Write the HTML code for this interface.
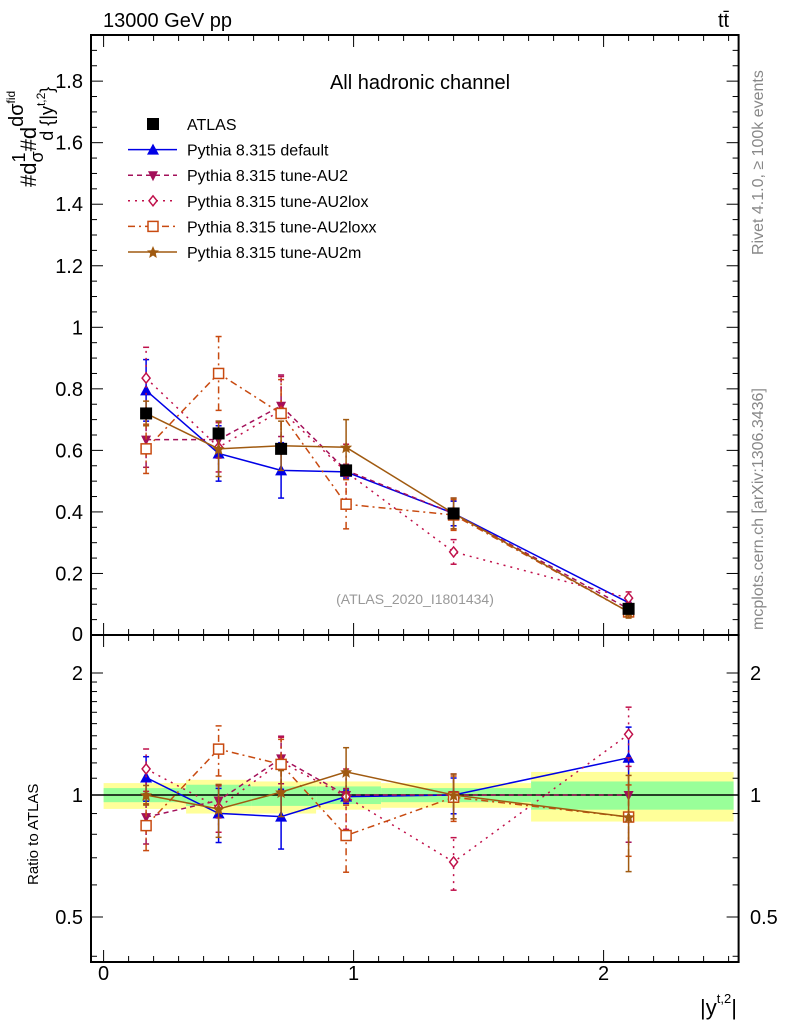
<!DOCTYPE html>
<html><head><meta charset="utf-8"><style>
html,body{margin:0;padding:0;background:#fff;}
svg text{font-family:"Liberation Sans",sans-serif;}
</style></head><body>
<svg id="c" width="786" height="1024" xmlns="http://www.w3.org/2000/svg"></svg>
<script>
const xs=[0.17,0.46,0.71,0.97,1.4,2.1];
const atlas=[0.72,0.655,0.605,0.535,0.395,0.085];
const atlasErr=[0.02,0.02,0.02,0.015,0.015,0.005];
const def=[0.795,0.59,0.535,0.53,0.395,0.105];
const defErr=[0.1,0.09,0.09,0.02,0.04,0.02];
const au2=[0.635,0.635,0.745,0.535,0.395,0.085];
const au2Err=[0.09,0.06,0.1,0.02,0.05,0.02];
const lox=[0.835,0.61,0.73,0.53,0.27,0.12];
const loxErr=[0.1,0.08,0.11,0.09,0.04,0.02];
const loxx=[0.605,0.85,0.72,0.425,0.39,0.075];
const loxxErr=[0.08,0.12,0.11,0.08,0.05,0.015];
const au2m=[0.72,0.605,0.615,0.61,0.395,0.075];
const au2mErr=[0.04,0.09,0.08,0.09,0.05,0.02];
const bandEdges=[0,0.33,0.59,0.85,1.11,1.71,2.52];
const yellowHi=[1.07,1.09,1.08,1.08,1.07,1.14];
const yellowLo=[0.924,0.90,0.90,0.92,0.93,0.86];
const greenHi=[1.04,1.06,1.05,1.05,1.04,1.08];
const greenLo=[0.96,0.94,0.94,0.95,0.96,0.92];
const yMainTicks=[0.2,0.4,0.6,0.8,1,1.2,1.4,1.6,1.8];
const yMainLabels=["0.2","0.4","0.6","0.8","1","1.2","1.4","1.6","1.8"];
const rTicks=[0.5,1,2];
const rLabels=["0.5","1","2"];
const xTicks=[0,1,2];
const xLabels=["0","1","2"];

const L=91,R=738.6,T=35,MB=635,RB=962;
const X=v=>103.6+250*v;
const Y=v=>635-307.7*v;
const RY=v=>795-122*Math.log2(v);
const svg=document.getElementById('c');
const NS='http://www.w3.org/2000/svg';
function el(tag,attrs,parent){const e=document.createElementNS(NS,tag);for(const k in attrs)e.setAttribute(k,attrs[k]);(parent||svg).appendChild(e);return e;}
function txt(s,x,y,attrs){const e=el('text',Object.assign({x:x,y:y},attrs||{}));e.textContent=s;return e;}

for(let i=0;i<yellowHi.length;i++){
 const r=el('rect',{x:X(bandEdges[i]),y:RY(yellowHi[i]),width:X(bandEdges[i+1])-X(bandEdges[i]),height:RY(yellowLo[i])-RY(yellowHi[i]),fill:'#ffff99'});
 
 
 const g=el('rect',{x:X(bandEdges[i]),y:RY(greenHi[i]),width:X(bandEdges[i+1])-X(bandEdges[i]),height:RY(greenLo[i])-RY(greenHi[i]),fill:'#99ff99'});
 
 
}
el('line',{x1:L,x2:R,y1:RY(1),y2:RY(1),stroke:'#000','stroke-width':1.5});

const f1=el('rect',{x:L,y:T,width:R-L,height:MB-T,fill:'none',stroke:'#000','stroke-width':2});

const f2=el('rect',{x:L,y:MB,width:R-L,height:RB-MB,fill:'none',stroke:'#000','stroke-width':2});


for(let k=0;k<=25;k++){const v=k/10;const px=X(v);const maj=k%10==0;const len=maj?12:6;
 [T,MB].forEach(y0=>el('line',{x1:px,x2:px,y1:y0,y2:y0+len,stroke:'#000','stroke-width':1}));
 [MB,RB].forEach(y0=>el('line',{x1:px,x2:px,y1:y0,y2:y0-len,stroke:'#000','stroke-width':1}));
}
xTicks.forEach((v,i)=>{const t=txt(xLabels[i],X(v),980,{'font-size':20,'text-anchor':'middle'});});
for(let k=1;k<=39;k++){const v=k*0.05;const py=Y(v);if(py<T)break;const maj=k%4==0;const len=maj?12:6;
 el('line',{x1:L,x2:L+len,y1:py,y2:py,stroke:'#000'});el('line',{x1:R,x2:R-len,y1:py,y2:py,stroke:'#000'});}
yMainTicks.forEach((v,i)=>{const t=txt(yMainLabels[i],83,Y(v)+7,{'font-size':20,'text-anchor':'end'});});
txt('0',83,641,{'font-size':20,'text-anchor':'end'});
[0.4,0.5,0.6,0.7,0.8,0.9,1,1.1,1.2,1.3,1.4,1.5,1.6,1.7,1.8,1.9,2].forEach(v=>{const py=RY(v);if(py>RB||py<MB)return;const maj=[0.5,1,2].includes(v);const len=maj?12:6;
 el('line',{x1:L,x2:L+len,y1:py,y2:py,stroke:'#000'});el('line',{x1:R,x2:R-len,y1:py,y2:py,stroke:'#000'});});
rTicks.forEach((v,i)=>{txt(rLabels[i],83,RY(v)+7,{'font-size':20,'text-anchor':'end'});
 txt(rLabels[i],750,RY(v)+7,{'font-size':20});});

const series=[
 {name:'pythia-default',v:def,e:defErr,c:'#0000e6',dash:'',m:'tri'},
 {name:'pythia-au2',v:au2,e:au2Err,c:'#a3105a',dash:'5,4',m:'tridown'},
 {name:'pythia-au2lox',v:lox,e:loxErr,c:'#c0104a',dash:'2,5',m:'diamond'},
 {name:'pythia-au2loxx',v:loxx,e:loxxErr,c:'#c84a10',dash:'7,4,2,4',m:'square'},
 {name:'pythia-au2m',v:au2m,e:au2mErr,c:'#a05a10',dash:'',m:'star'}
];
function marker(m,x,y,c,g){
 if(m=='tri')el('polygon',{points:`${x},${y-6} ${x-6},${y+5} ${x+6},${y+5}`,fill:c},g);
 else if(m=='tridown')el('polygon',{points:`${x},${y+6} ${x-5},${y-4} ${x+5},${y-4}`,fill:c},g);
 else if(m=='diamond')el('polygon',{points:`${x},${y-5} ${x-4},${y} ${x},${y+5} ${x+4},${y}`,fill:'#fff',stroke:c,'stroke-width':1.5},g);
 else if(m=='square')el('rect',{x:x-5,y:y-5,width:10,height:10,fill:'#fff',stroke:c,'stroke-width':1.5},g);
 else if(m=='star')el('polygon',{points:`${x},${y-6} ${x+1.8},${y-1.8} ${x+6},${y-1.5} ${x+2.8},${y+1.5} ${x+3.8},${y+6} ${x},${y+3.5} ${x-3.8},${y+6} ${x-2.8},${y+1.5} ${x-6},${y-1.5} ${x-1.8},${y-1.8}`,fill:c},g);
 else if(m=='sq')el('rect',{x:x-6,y:y-6,width:12,height:12,fill:c},g);
}
function draw(s,fy,vals,errs,g){
 el('polyline',{points:xs.map((x,i)=>X(x)+','+fy(vals[i])).join(' '),fill:'none',stroke:s.c,'stroke-width':1.5,'stroke-dasharray':s.dash},g);
 xs.forEach((x,i)=>{const lo=fy(vals[i]-errs[i]),hi=fy(vals[i]+errs[i]);
  el('line',{x1:X(x),x2:X(x),y1:lo,y2:hi,stroke:s.c,'stroke-width':1.5,'stroke-dasharray':s.dash},g);
  el('line',{x1:X(x)-3,x2:X(x)+3,y1:lo,y2:lo,stroke:s.c,'stroke-width':1.5},g);
  el('line',{x1:X(x)-3,x2:X(x)+3,y1:hi,y2:hi,stroke:s.c,'stroke-width':1.5},g);
  marker(s.m,X(x),fy(vals[i]),s.c,g);});
}
const ga=el('g',{});
series.forEach(s=>{const g=el('g',{});
 draw(s,Y,s.v,s.e,g);
 const rv=s.v.map((v,i)=>v/atlas[i]);const re=s.e.map((e,i)=>e/atlas[i]);
 const g2=el('g',{});
 draw(s,RY,rv,re,g2);});
xs.forEach((x,i)=>{el('line',{x1:X(x),x2:X(x),y1:Y(atlas[i]-atlasErr[i]),y2:Y(atlas[i]+atlasErr[i]),stroke:'#000'},ga);marker('sq',X(x),Y(atlas[i]),'#000',ga);});
svg.appendChild(ga);

const leg=[['ATLAS','#000','','sq'],['Pythia 8.315 default','#0000e6','','tri'],['Pythia 8.315 tune-AU2','#a3105a','5,4','tridown'],['Pythia 8.315 tune-AU2lox','#c0104a','2,5','diamond'],['Pythia 8.315 tune-AU2loxx','#c84a10','7,4,2,4','square'],['Pythia 8.315 tune-AU2m','#a05a10','','star']];
leg.forEach((l,i)=>{const y=124+25.6*i;const g=el('g',{});
 if(i>0)el('line',{x1:128,x2:177,y1:y,y2:y,stroke:l[1],'stroke-width':1.5,'stroke-dasharray':l[2]},g);
 marker(l[3],153,y,l[1],g);
 txt(l[0],187,y+6,{'font-size':16});});

txt('13000 GeV pp',103,27,{'font-size':20});
txt('tt̄',718,27,{'font-size':20});
txt('All hadronic channel',420,89,{'font-size':20,'text-anchor':'middle'});
txt('(ATLAS_2020_I1801434)',415,604,{'font-size':14,'text-anchor':'middle',fill:'#999'});
txt('Rivet 4.1.0, ≥ 100k events',0,0,{'font-size':16,fill:'#888',transform:'translate(763,255) rotate(-90)'});
txt('mcplots.cern.ch [arXiv:1306.3436]',0,0,{'font-size':16,fill:'#888',transform:'translate(763,630) rotate(-90)'});
txt('Ratio to ATLAS',0,0,{'font-size':15,transform:'translate(38,885) rotate(-90)'});
const yt=txt('',0,0,{'font-size':22,transform:'translate(36,187) rotate(-90)'});
yt.innerHTML='#d<tspan font-size="18" dy="-11">1</tspan><tspan dx="-10" dy="18" font-size="18">σ</tspan><tspan dy="-7">#d</tspan><tspan font-size="20" dy="-13">dσ</tspan><tspan font-size="12" dy="-8">fid</tspan><tspan dx="-50" dy="38" font-size="18">d {|y</tspan><tspan font-size="12" dy="-8">t,2</tspan><tspan font-size="18" dy="8">}</tspan>';
const lineG=el('line',{x1:40,x2:40,y1:0,y2:0},svg);
const xt=txt('|y',700,1015,{'font-size':22});
xt.innerHTML='|y<tspan font-size="13" dy="-12">t,2</tspan><tspan dy="12">|</tspan>';
</script>
</body></html>
